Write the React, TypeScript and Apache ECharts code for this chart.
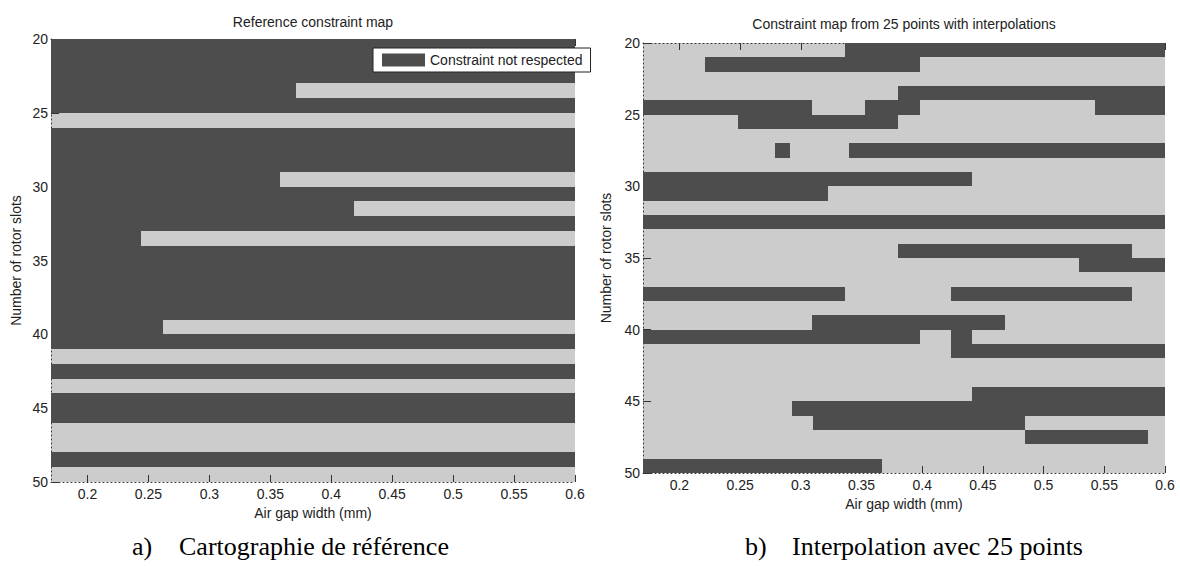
import React, { useEffect, useRef } from "react";
import * as echarts from "echarts";

// ---- data ----
const X_MIN = 0.17;
const X_MAX = 0.6;
const Y_MIN = 20;
const Y_MAX = 50;
const xTickValues = [0.2, 0.25, 0.3, 0.35, 0.4, 0.45, 0.5, 0.55, 0.6];

const legendName = "Constraint not respected";
const leftTitle = "Reference constraint map";
const rightTitle = "Constraint map from 25 points with interpolations";
const xName = "Air gap width (mm)";
const yName = "Number of rotor slots";
const captionA = ["a)", "Cartographie de référence"];
const captionB = ["b)", "Interpolation avec 25 points"];

// Reference map: regions where the constraint is not respected
// [air gap start, air gap end, first slot row, end slot row]
const referenceDark = [
  [0.17, 0.6, 20, 23],
  [0.17, 0.371, 23, 24],
  [0.17, 0.6, 24, 25],
  [0.17, 0.6, 26, 29],
  [0.17, 0.358, 29, 30],
  [0.17, 0.6, 30, 31],
  [0.17, 0.419, 31, 32],
  [0.17, 0.6, 32, 33],
  [0.17, 0.244, 33, 34],
  [0.17, 0.6, 34, 39],
  [0.17, 0.262, 39, 40],
  [0.17, 0.6, 40, 41],
  [0.17, 0.6, 42, 43],
  [0.17, 0.6, 44, 46],
  [0.17, 0.6, 48, 49],
];

// Interpolated map from 25 points
const interpolatedDark = [
  [0.336, 0.6, 20, 21],
  [0.221, 0.398, 21, 22],
  [0.38, 0.6, 23, 24],
  [0.17, 0.309, 24, 25],
  [0.353, 0.398, 24, 25],
  [0.542, 0.6, 24, 25],
  [0.248, 0.38, 25, 26],
  [0.279, 0.291, 27, 28],
  [0.34, 0.6, 27, 28],
  [0.17, 0.441, 29, 30],
  [0.17, 0.322, 30, 31],
  [0.17, 0.6, 32, 33],
  [0.38, 0.573, 34, 35],
  [0.529, 0.6, 35, 36],
  [0.17, 0.336, 37, 38],
  [0.424, 0.573, 37, 38],
  [0.309, 0.468, 39, 40],
  [0.17, 0.398, 40, 41],
  [0.424, 0.441, 40, 41],
  [0.424, 0.6, 41, 42],
  [0.441, 0.6, 44, 45],
  [0.293, 0.6, 45, 46],
  [0.31, 0.485, 46, 47],
  [0.485, 0.586, 47, 48],
  [0.17, 0.367, 49, 50],
];

// ---- styles ----
const DARK = "#4d4d4d";
const LIGHT = "#cccccc";
const TEXT = "#222";
const FONT = "'Liberation Sans', Arial, sans-serif";
const SERIF = "'Liberation Serif', 'Times New Roman', serif";

const grids = [
  { left: 51, top: 39, width: 524, height: 443 },
  { left: 643, top: 43, width: 522, height: 430 },
];

function renderRect(params: any, api: any) {
  const p0 = api.coord([api.value(0), api.value(2)]);
  const p1 = api.coord([api.value(1), api.value(3)]);
  const x0 = Math.round(p0[0]);
  const x1 = Math.round(p1[0]);
  const y0 = Math.round(p0[1]);
  const y1 = Math.round(p1[1]);
  return {
    type: "rect",
    shape: { x: x0, y: y0, width: x1 - x0, height: y1 - y0 },
    style: { fill: DARK, stroke: null },
  };
}

function makeAxes(i: number) {
  const dotted = { show: true, lineStyle: { color: "#333", width: 1, type: [1, 3] as any } };
  const xBottom = {
    type: "value",
    gridIndex: i,
    min: X_MIN,
    max: X_MAX,
    position: "bottom",
    name: xName,
    nameLocation: "middle",
    nameGap: 23,
    nameTextStyle: { fontFamily: FONT, fontSize: 14, color: TEXT },
    axisLine: dotted,
    axisTick: { show: true, inside: true, length: 7, customValues: xTickValues, lineStyle: { color: "#333" } },
    axisLabel: {
      customValues: xTickValues,
      fontFamily: FONT,
      fontSize: 14,
      color: TEXT,
      margin: 5,
      formatter: (v: number) => String(Math.round(v * 100) / 100),
    },
    splitLine: { show: false },
  };
  const xTop = {
    type: "value",
    gridIndex: i,
    min: X_MIN,
    max: X_MAX,
    position: "top",
    axisLine: dotted,
    axisTick: { show: true, inside: true, length: 7, customValues: xTickValues, lineStyle: { color: "#333" } },
    axisLabel: { show: false },
    splitLine: { show: false },
  };
  const y = {
    type: "value",
    gridIndex: i,
    min: Y_MIN,
    max: Y_MAX,
    interval: 5,
    inverse: true,
    name: yName,
    nameLocation: "middle",
    nameRotate: 90,
    nameGap: i === 0 ? 28 : 30,
    nameTextStyle: { fontFamily: FONT, fontSize: 14, color: TEXT },
    axisLine: dotted,
    axisTick: { show: true, inside: true, length: 8, lineStyle: { color: "#333" } },
    axisLabel: { fontFamily: FONT, fontSize: 14, color: TEXT, margin: 3 },
    splitLine: { show: false },
  };
  return { xs: [xBottom, xTop], y };
}

export default function App() {
  const ref = useRef<HTMLDivElement>(null);
  useEffect(() => {
    if (!ref.current) return;
    const chart = echarts.init(ref.current, undefined, { renderer: "svg" });
    const a0 = makeAxes(0);
    const a1 = makeAxes(1);
    const option: any = {
      animation: false,
      backgroundColor: "#fff",
      grid: grids.map((g) => ({
        ...g,
        show: true,
        backgroundColor: LIGHT,
        borderWidth: 0,
        containLabel: false,
      })),
      xAxis: [...a0.xs, ...a1.xs],
      yAxis: [a0.y, a1.y],
      legend: {
        data: [{ name: legendName, icon: "rect", itemStyle: { color: DARK } }],
        left: 373,
        top: 48,
        orient: "horizontal",
        itemWidth: 43,
        itemHeight: 13,
        itemGap: 5,
        padding: [5, 8, 5, 9],
        backgroundColor: "#fff",
        borderColor: "#222",
        borderWidth: 1,
        borderRadius: 0,
        selectedMode: false,
        textStyle: { fontFamily: FONT, fontSize: 14, color: TEXT, padding: [0, 0, 0, 0] },
        z: 10,
      },
      series: [
        {
          name: legendName,
          type: "custom",
          xAxisIndex: 0,
          yAxisIndex: 0,
          renderItem: renderRect,
          itemStyle: { color: DARK },
          encode: { x: [0, 1], y: [2, 3] },
          data: referenceDark,
          clip: true,
        },
        {
          name: "Interpolated constraint not respected",
          type: "custom",
          xAxisIndex: 2,
          yAxisIndex: 1,
          renderItem: renderRect,
          itemStyle: { color: DARK },
          encode: { x: [0, 1], y: [2, 3] },
          data: interpolatedDark,
          clip: true,
        },
      ],
      graphic: [
        {
          type: "text",
          x: 313,
          y: 22,
          style: { text: leftTitle, fontFamily: FONT, fontSize: 14, fill: TEXT, textAlign: "center", textVerticalAlign: "middle" },
        },
        {
          type: "text",
          x: 904,
          y: 24,
          style: { text: rightTitle, fontFamily: FONT, fontSize: 14, fill: TEXT, textAlign: "center", textVerticalAlign: "middle" },
        },
        {
          type: "text",
          x: 132,
          y: 559,
          style: { text: captionA[0], fontFamily: SERIF, fontSize: 26, fill: "#000", textAlign: "left", textVerticalAlign: "bottom" },
        },
        {
          type: "text",
          x: 179,
          y: 559,
          style: { text: captionA[1], fontFamily: SERIF, fontSize: 26, fill: "#000", textAlign: "left", textVerticalAlign: "bottom" },
        },
        {
          type: "text",
          x: 745,
          y: 559,
          style: { text: captionB[0], fontFamily: SERIF, fontSize: 26, fill: "#000", textAlign: "left", textVerticalAlign: "bottom" },
        },
        {
          type: "text",
          x: 792,
          y: 559,
          style: { text: captionB[1], fontFamily: SERIF, fontSize: 26, fill: "#000", textAlign: "left", textVerticalAlign: "bottom" },
        },
      ],
    };
    chart.setOption(option);
    return () => chart.dispose();
  }, []);
  return (
    <div
      ref={ref}
      style={{ position: "fixed", left: 0, top: 0, width: 1180, height: 566, background: "#fff" }}
    />
  );
}
